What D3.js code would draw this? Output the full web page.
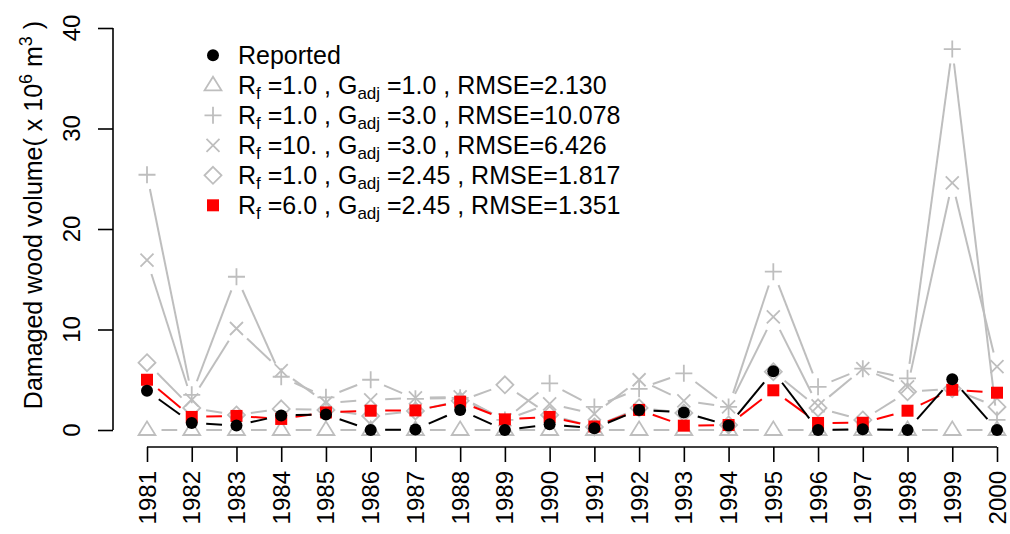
<!DOCTYPE html>
<html>
<head>
<meta charset="utf-8">
<script src="https://cdn.jsdelivr.net/npm/d3@7"></script>
<style>
  html, body { margin: 0; padding: 0; background: #ffffff; }
  svg { display: block; }
  text { font-family: "Liberation Sans", Arial, Helvetica, sans-serif; fill: #000; }
</style>
</head>
<body>
<svg id="chart" width="1010" height="534"></svg>
<script>
// Years of record
const years = [1981, 1982, 1983, 1984, 1985, 1986, 1987, 1988, 1989, 1990,
               1991, 1992, 1993, 1994, 1995, 1996, 1997, 1998, 1999, 2000];

// Damaged wood volume (x 10^6 m^3)
const reported = [3.9, 0.7, 0.45, 1.45, 1.55, 0, 0.05, 2.0, 0, 0.56,
                  0.17, 2.0, 1.75, 0.45, 5.85, 0, 0.07, 0, 5.05, 0];
const rf1g1   = [0, 0, 0, 0, 0, 0, 0, 0, 0, 0,
                 0, 0, 0, 0, 0, 0, 0, 0, 0, 0];
const rf1g3   = [25.4, 3.5, 15.25, 5.3, 3.25, 5.0, 3.1, 3.2, 1.0, 4.64,
                 2.3, 4.1, 5.64, 2.3, 15.75, 4.3, 6.1, 5.14, 37.9, 1.0];
const rf10g3  = [16.9, 3.0, 10.1, 5.9, 2.7, 3.0, 3.2, 3.3, 1.0, 2.6,
                 1.6, 5.0, 2.9, 2.3, 11.25, 2.4, 6.1, 4.3, 24.6, 6.3];
const rf1g245 = [6.7, 2.2, 1.5, 2.1, 2.0, 1.4, 1.9, 2.9, 4.5, 1.5,
                 0.3, 2.2, 1.7, 0.5, 5.8, 2.2, 1.0, 3.8, 4.1, 2.3];
const rf6g245 = [5.0, 1.3, 1.4, 1.1, 1.75, 1.92, 1.95, 2.82, 1.06, 1.3,
                 0.35, 2.0, 0.43, 0.5, 3.95, 0.7, 0.72, 1.92, 4.0, 3.71];

const yTicks = [0, 10, 20, 30, 40];

// Legend entries: [Rf, Gadj, RMSE]
const legendRf   = ["1.0", "1.0", "10.", "1.0", "6.0"];
const legendGadj = ["1.0", "3.0", "3.0", "2.45", "2.45"];
const legendRmse = ["2.130", "10.078", "6.426", "1.817", "1.351"];

const GREY = "#bebebe";

const svg = d3.select("#chart");

const x = d3.scaleLinear().domain([1981, 2000]).range([147, 997]);
const y = d3.scaleLinear().domain([0, 40]).range([430, 28]);

// symbol path generators (centred on 0,0)
function symbolPath(kind) {
  switch (kind) {
    case "triangle": {
      const h = 8.6;
      return `M0,${-h}L${h * 0.98},${h * 0.58}L${-h * 0.98},${h * 0.58}Z`;
    }
    case "plus":
      return "M-8.5,0L8.5,0M0,-8.5L0,8.5";
    case "cross":
      return "M-6.5,-6.5L6.5,6.5M-6.5,6.5L6.5,-6.5";
    case "diamond":
      return "M0,-8.5L8.5,0L0,8.5L-8.5,0Z";
    case "square":
      return "M-6,-6L6,-6L6,6L-6,6Z";
    case "circle":
      return d3.path().toString();
  }
}

function drawMarker(g, kind, color, cx, cy) {
  if (kind === "circle") {
    g.append("circle").attr("cx", cx).attr("cy", cy).attr("r", 6)
      .attr("fill", color);
  } else if (kind === "square") {
    g.append("path").attr("d", symbolPath(kind))
      .attr("transform", `translate(${cx},${cy})`)
      .attr("fill", color);
  } else {
    g.append("path").attr("d", symbolPath(kind))
      .attr("transform", `translate(${cx},${cy})`)
      .attr("fill", "none").attr("stroke", color).attr("stroke-width", 1.8);
  }
}

// points joined by lines that stop short of each point
const GAP = 14.5;
function drawSeries(values, kind, color) {
  const g = svg.append("g");
  const pts = values.map((v, i) => [x(years[i]), y(v)]);
  for (let i = 0; i < pts.length - 1; i++) {
    const [x1, y1] = pts[i], [x2, y2] = pts[i + 1];
    const dx = x2 - x1, dy = y2 - y1, L = Math.hypot(dx, dy);
    if (L <= 2 * GAP) continue;
    const ux = dx / L, uy = dy / L;
    g.append("line")
      .attr("x1", x1 + ux * GAP).attr("y1", y1 + uy * GAP)
      .attr("x2", x2 - ux * GAP).attr("y2", y2 - uy * GAP)
      .attr("stroke", color).attr("stroke-width", 2);
  }
  pts.forEach(([px, py]) => drawMarker(g, kind, color, px, py));
}

drawSeries(rf1g1, "triangle", GREY);
drawSeries(rf1g3, "plus", GREY);
drawSeries(rf10g3, "cross", GREY);
drawSeries(rf1g245, "diamond", GREY);
drawSeries(rf6g245, "square", "#ff0000");
drawSeries(reported, "circle", "#000000");

// y axis
const yAxis = d3.axisLeft(y).tickValues(yTicks).tickSize(15).tickFormat("");
const gy = svg.append("g").attr("transform", "translate(113,0)").call(yAxis);
gy.select(".domain").attr("d", `M0,${y(0)}V${y(40)}`).attr("stroke-width", 1.6);
gy.selectAll(".tick line").attr("stroke-width", 1.6);
svg.append("g").selectAll("text").data(yTicks).join("text")
  .attr("transform", d => `translate(80,${y(d)}) rotate(-90)`)
  .attr("text-anchor", "middle")
  .attr("font-size", 24)
  .text(d => d);

// x axis
const xAxis = d3.axisBottom(x).tickValues(years).tickSize(15).tickFormat("");
const gx = svg.append("g").attr("transform", "translate(0,447)").call(xAxis);
gx.select(".domain").attr("d", `M${x(1981)},0H${x(2000)}`).attr("stroke-width", 1.6);
gx.selectAll(".tick line").attr("stroke-width", 1.6);
svg.append("g").selectAll("text").data(years).join("text")
  .attr("transform", d => `translate(${x(d) + 8.5},471) rotate(-90)`)
  .attr("text-anchor", "end")
  .attr("font-size", 24)
  .text(d => d);

// y axis title
const yt = svg.append("text")
  .attr("transform", "translate(42,215) rotate(-90)")
  .attr("text-anchor", "middle")
  .attr("font-size", 25);
yt.append("tspan").text("Damaged wood volume( x 10");
yt.append("tspan").attr("font-size", 18).attr("dy", -10).text("6");
yt.append("tspan").attr("dy", 10).text(" m");
yt.append("tspan").attr("font-size", 18).attr("dy", -10).text("3");
yt.append("tspan").attr("dy", 10).text(" )");

// legend
const legendKinds = ["triangle", "plus", "cross", "diamond", "square"];
const legendColors = [GREY, GREY, GREY, GREY, "#ff0000"];
const lg = svg.append("g");
const rowY = i => 64.3 + i * 30;

drawMarker(lg, "circle", "#000000", 213, rowY(0) - 9);
lg.append("text").attr("x", 238).attr("y", rowY(0)).attr("font-size", 25).text("Reported");

legendRf.forEach((rf, i) => {
  const r = i + 1;
  drawMarker(lg, legendKinds[i], legendColors[i], 213, rowY(r) - 9);
  const t = lg.append("text").attr("x", 238).attr("y", rowY(r)).attr("font-size", 25);
  t.append("tspan").text("R");
  t.append("tspan").attr("font-size", 17).attr("dy", 5).text("f");
  t.append("tspan").attr("dy", -5).text(" =" + rf + " , G");
  t.append("tspan").attr("font-size", 17).attr("dy", 5).text("adj");
  t.append("tspan").attr("dy", -5).text(" =" + legendGadj[i] + " , RMSE=" + legendRmse[i]);
});
</script>
</body>
</html>
